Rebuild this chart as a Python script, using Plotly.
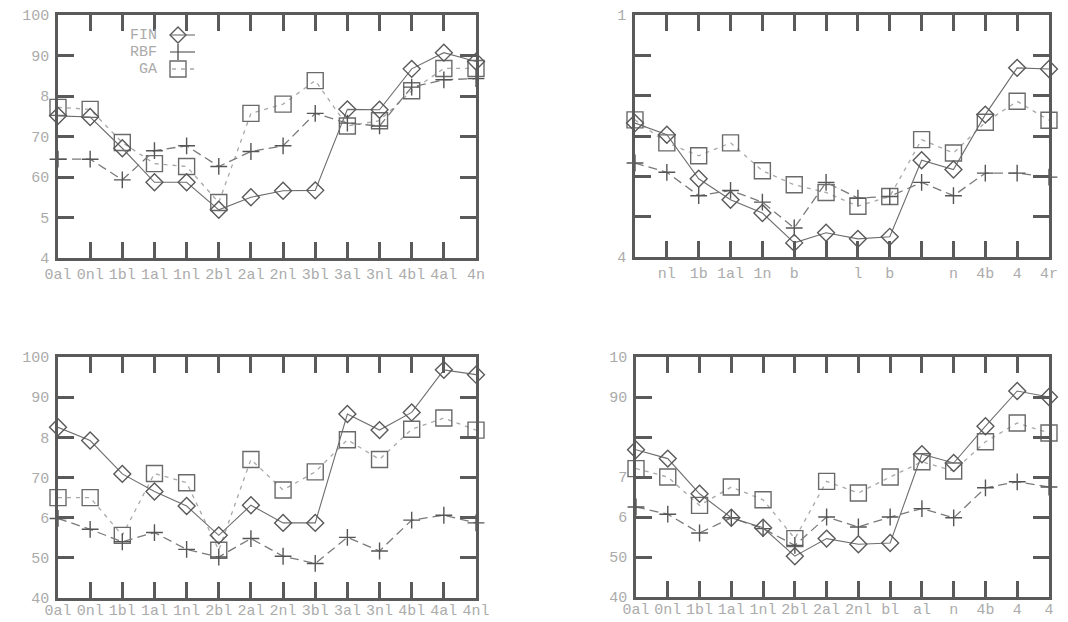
import plotly.graph_objects as go

categories = ["0al", "0nl", "1bl", "1al", "1nl", "2bl", "2al", "2nl", "3bl", "3al", "3nl", "4bl", "4al", "4nl"]

# Tick labels as they appear (partly faded) in each panel
xlabels_1 = ["0al", "0nl", "1bl", "1al", "1nl", "2bl", "2al", "2nl", "3bl", "3al", "3nl", "4bl", "4al", "4n"]
xlabels_2 = ["", "nl", "1b", "1al", "1n", "b", "", "l", "b", "", "n", "4b", "4", "4r"]
xlabels_3 = ["0al", "0nl", "1bl", "1al", "1nl", "2bl", "2al", "2nl", "3bl", "3al", "3nl", "4bl", "4al", "4nl"]
xlabels_4 = ["0al", "0nl", "1bl", "1al", "1nl", "2bl", "2al", "2nl", "bl", "al", "n", "4b", "4", "4"]

ytickvals = [40, 50, 60, 70, 80, 90, 100]
ylabels_1 = ["4", "5", "60", "70", "8", "90", "100"]
ylabels_2 = ["4", "", "", "", "", "", "1"]
ylabels_3 = ["40", "50", "6", "70", "8", "90", "100"]
ylabels_4 = ["40", "50", "6", "7", "", "90", "10"]

# Panel 1 (top left)
fin_1 = [75.1, 74.8, 67.1, 58.7, 58.7, 51.9, 55.0, 56.6, 56.7, 76.7, 76.6, 86.7, 90.7, 88.5]
rbf_1 = [64.4, 64.4, 59.3, 66.5, 67.7, 62.6, 66.3, 67.7, 75.7, 73.3, 72.6, 82.2, 84.0, 84.3]
ga_1 = [77.2, 76.7, 68.5, 63.3, 62.6, 53.7, 75.7, 78.0, 83.8, 72.6, 73.9, 81.3, 86.8, 86.8]

# Panel 2 (top right)
fin_2 = [73.2, 70.3, 59.4, 54.2, 50.9, 43.5, 46.0, 44.5, 45.0, 64.0, 61.7, 75.3, 86.9, 86.6]
rbf_2 = [63.3, 61.0, 55.2, 56.5, 53.6, 47.2, 58.5, 54.6, 55.0, 58.5, 55.2, 60.8, 60.8, 59.8]
ga_2 = [74.0, 68.3, 65.1, 68.3, 61.4, 57.9, 56.0, 52.6, 55.0, 69.1, 65.8, 73.4, 78.6, 73.9]

# Panel 3 (bottom left)
fin_3 = [82.5, 79.2, 70.9, 66.5, 62.9, 55.6, 63.1, 58.7, 58.7, 85.8, 81.8, 86.2, 96.8, 95.6]
rbf_3 = [59.8, 57.1, 54.0, 56.3, 52.1, 50.2, 54.8, 50.4, 48.6, 55.1, 51.7, 59.4, 60.6, 58.7]
ga_3 = [65.0, 65.0, 55.6, 71.0, 68.7, 51.9, 74.5, 66.9, 71.4, 79.4, 74.5, 82.0, 84.8, 81.8]

# Panel 4 (bottom right)
fin_4 = [76.8, 74.6, 65.8, 59.8, 57.3, 50.2, 54.6, 53.2, 53.5, 75.7, 73.5, 82.7, 91.5, 90.0]
rbf_4 = [62.5, 60.7, 56.0, 59.8, 57.1, 52.9, 60.0, 57.5, 60.0, 62.1, 59.8, 67.3, 68.8, 67.5]
ga_4 = [72.1, 70.0, 62.9, 67.5, 64.3, 54.6, 68.9, 66.0, 70.0, 73.8, 71.5, 78.8, 83.5, 81.0]

# The page body has an 8px margin, so the figure occupies the window minus that offset
OFF = 8
W, H = 1068 - OFF, 622 - OFF
FRAME = "#5a5a5a"
LABEL = "#ababab"
FONT = "Liberation Mono, Courier New, monospace"


def fx(x):
    return (x - OFF) / W


def fy(y):
    return 1 - (y - OFF) / H


panels = [
    dict(fin=fin_1, rbf=rbf_1, ga=ga_1, xl=xlabels_1, yl=ylabels_1, px=(58, 476), py=(15, 258), xs=0),
    dict(fin=fin_2, rbf=rbf_2, ga=ga_2, xl=xlabels_2, yl=ylabels_2, px=(635, 1049), py=(15, 257), xs=0),
    dict(fin=fin_3, rbf=rbf_3, ga=ga_3, xl=xlabels_3, yl=ylabels_3, px=(58, 476), py=(357, 598), xs=-4),
    dict(fin=fin_4, rbf=rbf_4, ga=ga_4, xl=xlabels_4, yl=ylabels_4, px=(636, 1049), py=(357, 597), xs=-4),
]

fig = go.Figure()
idx = list(range(len(categories)))

for i, p in enumerate(panels):
    n = "" if i == 0 else str(i + 1)
    xa, ya = "x" + n, "y" + n
    # GA: light short dashes, open squares
    fig.add_trace(go.Scatter(
        x=idx, y=p["ga"], xaxis=xa, yaxis=ya, mode="lines+markers", name="GA",
        line=dict(color="#a8a8a8", width=1.3, dash="4px,5px"),
        marker=dict(symbol="square-open", size=16, color="#6a6a6a", line=dict(width=1.4)),
        cliponaxis=False, showlegend=False))
    # RBF: long dashes, thin crosses
    fig.add_trace(go.Scatter(
        x=idx, y=p["rbf"], xaxis=xa, yaxis=ya, mode="lines+markers", name="RBF",
        line=dict(color="#7a7a7a", width=1.3, dash="9px,5px"),
        marker=dict(symbol="cross-thin-open", size=12, color="#555555", line=dict(width=1.4, color="#555555")),
        cliponaxis=False, showlegend=False))
    # FIN: solid line, open diamonds
    fig.add_trace(go.Scatter(
        x=idx, y=p["fin"], xaxis=xa, yaxis=ya, mode="lines+markers", name="FIN",
        line=dict(color="#6e6e6e", width=1.1),
        marker=dict(symbol="diamond-open", size=13, color="#5a5a5a", line=dict(width=1.4)),
        cliponaxis=False, showlegend=False))

    x0, x1 = p["px"]
    y0, y1 = p["py"]
    axis_common = dict(showgrid=False, zeroline=False, showline=True, linecolor=FRAME, linewidth=2.5,
                       mirror="ticks", ticks="inside", ticklen=16, tickwidth=2.5, tickcolor=FRAME,
                       automargin=False,
                       tickfont=dict(family=FONT, size=15, color=LABEL))
    fig.update_layout(**{
        "xaxis" + n: dict(axis_common, domain=[fx(x0), fx(x1)], range=[0, 13], anchor=ya,
                          tickmode="array", tickvals=idx, ticktext=p["xl"],
                          ticklabelstandoff=p["xs"]),
        "yaxis" + n: dict(axis_common, domain=[fy(y1), fy(y0)], range=[40, 100], anchor=xa,
                          tickmode="array", tickvals=ytickvals, ticktext=p["yl"],
                          ticklabelstandoff=3),
    })

# Hand-drawn legend inside the first panel (text left, symbol right)
legend_items = [("FIN", 35), ("RBF", 52), ("GA", 69)]
shapes = []
annotations = []
for name, yy in legend_items:
    annotations.append(dict(x=fx(159), y=fy(yy), xref="paper", yref="paper", text=name, showarrow=False,
                            xanchor="right", yanchor="middle",
                            font=dict(family=FONT, size=15, color=LABEL)))

cx = 178
# FIN: diamond with solid line
yy = 35
shapes.append(dict(type="line", xref="paper", yref="paper",
                   x0=fx(cx - 8), x1=fx(cx + 17), y0=fy(yy), y1=fy(yy),
                   line=dict(color="#6e6e6e", width=1.1)))
shapes.append(dict(type="path", xref="paper", yref="paper",
                   path="M {a},{b} L {c},{d} L {e},{f} L {g},{h} Z".format(
                       a=fx(cx - 8), b=fy(yy), c=fx(cx), d=fy(yy - 8),
                       e=fx(cx + 8), f=fy(yy), g=fx(cx), h=fy(yy + 8)),
                   line=dict(color="#5a5a5a", width=1.4)))
# RBF: cross with line
yy = 52
shapes.append(dict(type="line", xref="paper", yref="paper",
                   x0=fx(cx - 8), x1=fx(cx + 17), y0=fy(yy), y1=fy(yy),
                   line=dict(color="#6a6a6a", width=1.3)))
shapes.append(dict(type="line", xref="paper", yref="paper",
                   x0=fx(cx), x1=fx(cx), y0=fy(yy - 8), y1=fy(yy + 8),
                   line=dict(color="#555555", width=1.4)))
# GA: square with short dashes
yy = 69
shapes.append(dict(type="rect", xref="paper", yref="paper",
                   x0=fx(cx - 8), x1=fx(cx + 8), y0=fy(yy - 8), y1=fy(yy + 8),
                   line=dict(color="#6a6a6a", width=1.4)))
shapes.append(dict(type="line", xref="paper", yref="paper",
                   x0=fx(cx - 6), x1=fx(cx + 17), y0=fy(yy), y1=fy(yy),
                   line=dict(color="#a8a8a8", width=1.3, dash="4px,5px")))

fig.update_layout(
    template="none",
    width=W, height=H, margin=dict(l=0, r=0, t=0, b=0, autoexpand=False),
    paper_bgcolor="white", plot_bgcolor="white",
    showlegend=False, shapes=shapes, annotations=annotations,
)

fig.write_html("out.html")
